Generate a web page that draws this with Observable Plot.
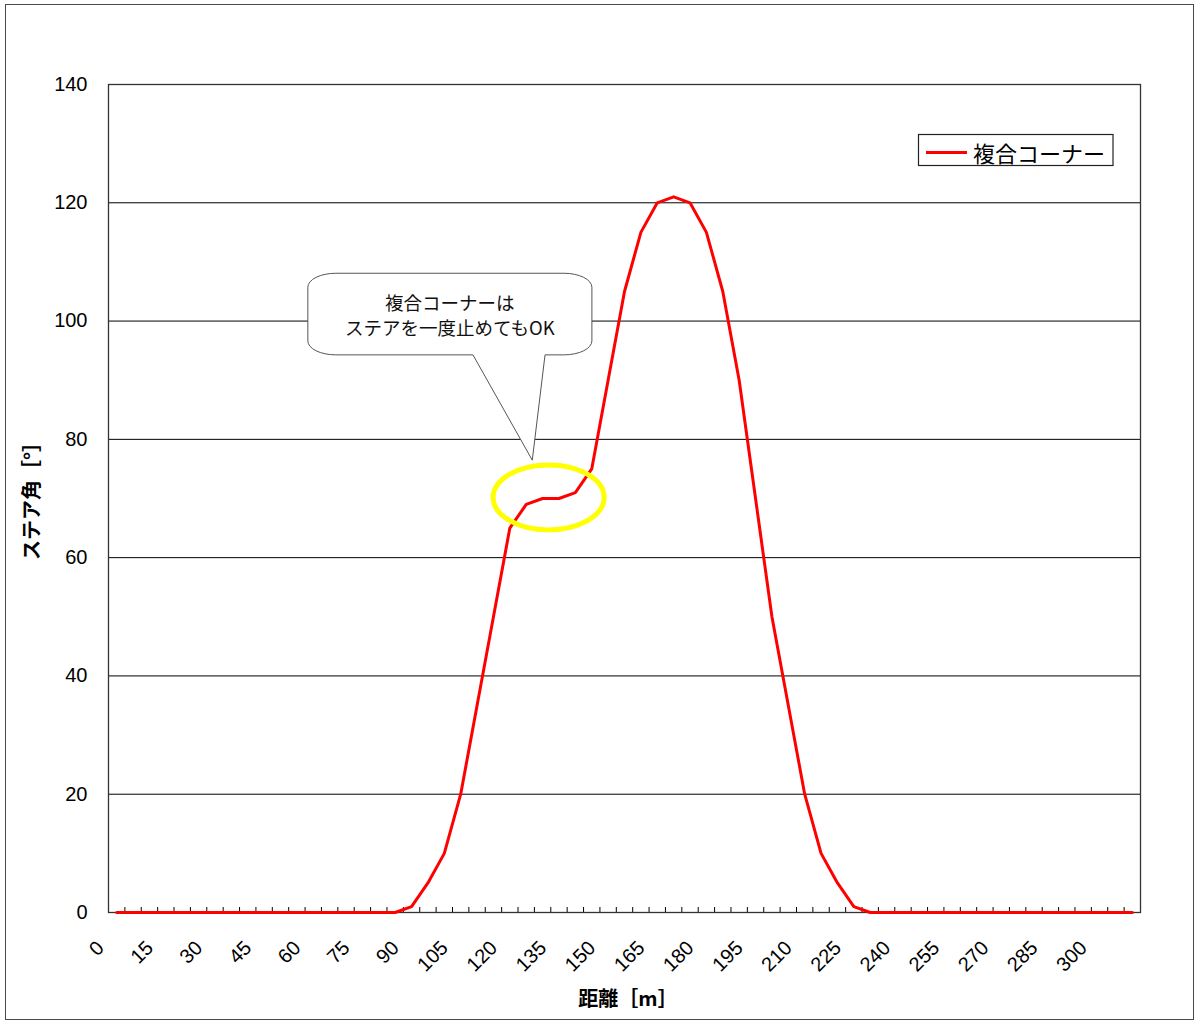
<!DOCTYPE html>
<html>
<head>
<meta charset="utf-8">
<script src="https://cdn.jsdelivr.net/npm/d3@7"></script>
<script src="https://cdn.jsdelivr.net/npm/@observablehq/plot@0.6"></script>
<style>
  body { margin: 0; background: #fff; }
  #wrap { position: relative; width: 1200px; height: 1027px; }
  #border { position: absolute; left: 5px; top: 4px; width: 1189px; height: 1016px; border: 1.5px solid #4a4a4a; box-sizing: border-box; pointer-events: none; }
</style>
</head>
<body>
<div id="wrap"><div id="border"></div></div>
<script>
// ---- data ----
const distances = [0,5,10,15,20,25,30,35,40,45,50,55,60,65,70,75,80,85,90,95,100,105,110,115,120,125,130,135,140,145,150,155,160,165,170,175,180,185,190,195,200,205,210,215,220,225,230,235,240,245,250,255,260,265,270,275,280,285,290,295,300,305,310];
const steerAngle = [0,0,0,0,0,0,0,0,0,0,0,0,0,0,0,0,0,0,1,5,10,20,35,50,65,69,70,70,71,75,90,105,115,120,121,120,115,105,90,70,50,35,20,10,5,1,0,0,0,0,0,0,0,0,0,0,0,0,0,0,0,0,0];
const xTickLabels = [0,15,30,45,60,75,90,105,120,135,150,165,180,195,210,225,240,255,270,285,300];
const yTicks = [0,20,40,60,80,100,120,140];
const seriesName = "複合コーナー";
const xTitle = "距離［m］";
const yTitle = "ステア角［°］";
const calloutLines = ["複合コーナーは", "ステアを一度止めてもOK"];
// annotation geometry in data units (distance, angle)
const calloutX = [58.5, 145.2];
const calloutY = [108.0, 94.2];
const calloutTailBase = [108.9, 130.9];
const calloutTip = [127, 76.4];
const highlightCenter = [132, 70.1];

const step = distances[1] - distances[0];
const xDomain = [distances[0] - step / 2, distances[distances.length - 1] + step / 2];
const boundaries = distances.slice(1).map(d => d - step / 2);
const data = distances.map((d, i) => ({d, v: steerAngle[i]}));

const jp = "'Noto Sans CJK JP', 'Noto Sans', sans-serif";
const num = "'Liberation Sans', Arial, sans-serif";

const mT = 84, mB = 115, mL = 108, mR = 60, W = 1200, H = 1027;

function calloutMark(index, scales) {
  const x = scales.x, y = scales.y;
  const L = x(calloutX[0]), R = x(calloutX[1]), T = y(calloutY[0]), B = y(calloutY[1]);
  const rx = 28, ry = 14;
  const b1 = x(calloutTailBase[0]), b2 = x(calloutTailBase[1]);
  const tx = x(calloutTip[0]), ty = y(calloutTip[1]);
  const g = d3.create("svg:g");
  const dstr = `M${L+rx},${T} H${R-rx} A${rx},${ry} 0 0 1 ${R},${T+ry} V${B-ry} A${rx},${ry} 0 0 1 ${R-rx},${B} H${b2} L${tx},${ty} L${b1},${B} H${L+rx} A${rx},${ry} 0 0 1 ${L},${B-ry} V${T+ry} A${rx},${ry} 0 0 1 ${L+rx},${T} Z`;
  g.append("path").attr("d", dstr).attr("fill", "#fff").attr("stroke", "#555").attr("stroke-width", 1);
  const cx = (L + R) / 2;
  const cy = (T + B) / 2;
  calloutLines.forEach((t, i) => {
    g.append("text").attr("x", cx).attr("y", cy + (i - 0.5) * 25)
      .attr("text-anchor", "middle").attr("dominant-baseline", "central")
      .attr("font-family", jp).attr("font-size", 18.5).attr("fill", "#111").text(t);
  });
  return g.node();
}

function highlightMark(index, scales) {
  return d3.create("svg:ellipse")
    .attr("cx", scales.x(highlightCenter[0])).attr("cy", scales.y(highlightCenter[1]))
    .attr("rx", 55.5).attr("ry", 32.5)
    .attr("fill", "none").attr("stroke", "#ffff00").attr("stroke-width", 5).node();
}

const plot = Plot.plot({
  width: W, height: H,
  marginTop: mT, marginBottom: mB, marginLeft: mL, marginRight: mR,
  style: {fontFamily: num, fontSize: "20px", color: "#000", background: "#fff", overflow: "visible"},
  x: {domain: xDomain, axis: null},
  y: {domain: [0, 140], axis: null},
  marks: [
    Plot.gridY(yTicks.filter(t => t > 0 && t < 140), {stroke: "#000", strokeOpacity: 1, strokeWidth: 1}),
    Plot.tickX(boundaries, {x: d => d, stroke: "#000", strokeWidth: 1, insetTop: (H - mT - mB) - 5}),
    Plot.text(yTicks, {y: d => d, frameAnchor: "left", textAnchor: "end", dx: -21, text: d => String(d), fontSize: 20, fill: "#000"}),
    Plot.text(xTickLabels, {x: d => d, frameAnchor: "bottom", text: d => String(d), rotate: -45, textAnchor: "end", lineAnchor: "middle", dx: -16, dy: 32, fontSize: 20, fill: "#000"}),
    Plot.frame({stroke: "#333", strokeWidth: 1.3}),
    Plot.line(data, {x: "d", y: "v", stroke: "#ff0000", strokeWidth: 3}),
    calloutMark,
    highlightMark
  ]
});

document.getElementById("wrap").appendChild(plot);
const svg = d3.select(plot);

// legend
const lg = svg.append("g");
lg.append("rect").attr("x", 918.5).attr("y", 134.5).attr("width", 194.5).attr("height", 31)
  .attr("fill", "#fff").attr("stroke", "#222").attr("stroke-width", 1.2);
lg.append("line").attr("x1", 926).attr("x2", 967).attr("y1", 152.5).attr("y2", 152.5)
  .attr("stroke", "#ff0000").attr("stroke-width", 3);
lg.append("text").attr("x", 973).attr("y", 152).attr("text-anchor", "start").attr("dominant-baseline", "central")
  .attr("font-family", jp).attr("font-size", 22).attr("fill", "#000").text(seriesName);

// axis titles
svg.append("text").attr("transform", `translate(30,${(mT + H - mB) / 2 - 2}) rotate(-90)`)
  .attr("text-anchor", "middle").attr("dominant-baseline", "central")
  .attr("font-family", jp).attr("font-weight", "bold").attr("font-size", 20).attr("fill", "#000").text(yTitle);
svg.append("text").attr("x", 628).attr("y", 997)
  .attr("text-anchor", "middle").attr("dominant-baseline", "central")
  .attr("font-family", jp).attr("font-weight", "bold").attr("font-size", 20).attr("fill", "#000").text(xTitle);
</script>
</body>
</html>
